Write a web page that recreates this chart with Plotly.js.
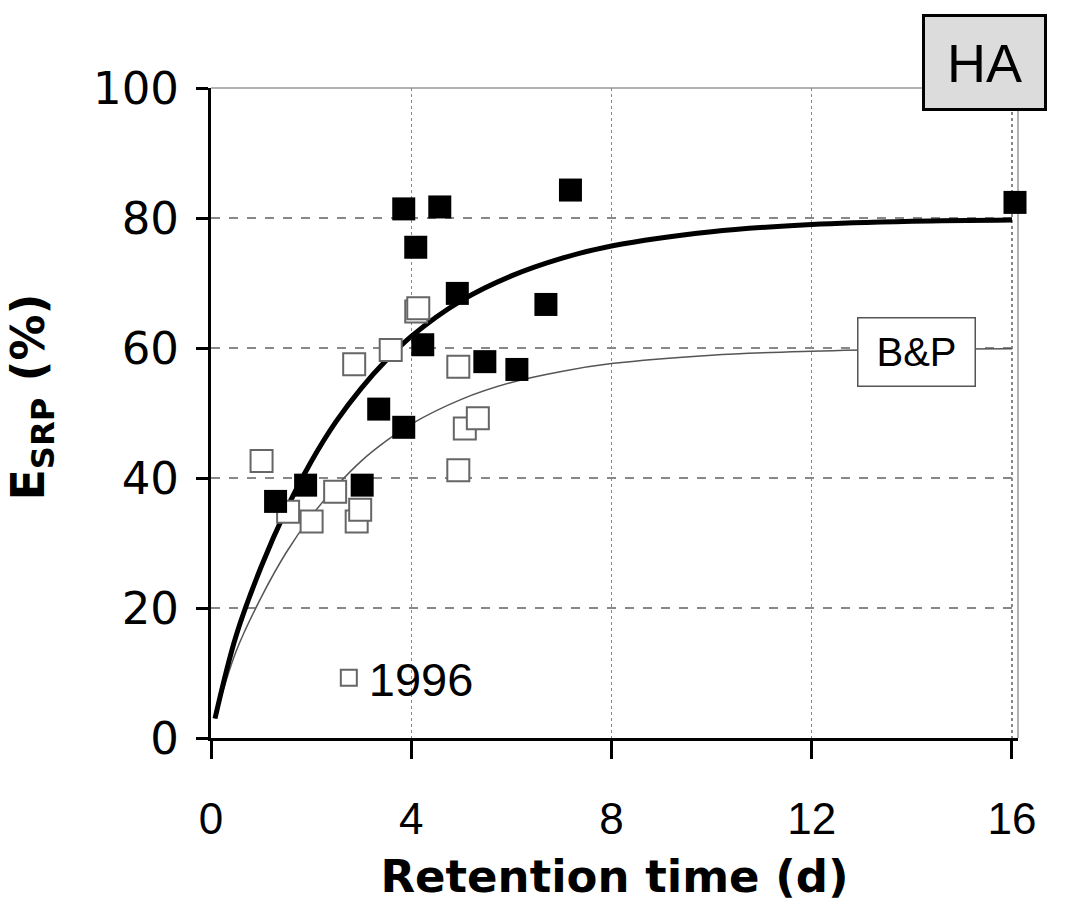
<!DOCTYPE html>
<html>
<head>
<meta charset="utf-8">
<script src="https://cdn.plot.ly/plotly-3.0.1.min.js"></script>
<style>
  html, body { margin: 0; padding: 0; background: #ffffff; }
  #chart { width: 1081px; height: 922px; }
</style>
</head>
<body>
<div id="chart"></div>
<script>
// Filled squares (measured data)
const filledX = [1.29, 1.89, 3.02, 3.35, 3.85, 3.85, 4.09, 4.57, 4.23, 4.92, 5.47, 6.11, 6.69, 7.18, 16.06];
const filledY = [36.4, 38.9, 38.9, 50.6, 47.8, 81.4, 75.5, 81.7, 60.5, 68.4, 57.9, 56.7, 66.7, 84.3, 82.4];

// Open squares (1996)
const openX = [1.01, 1.54, 2.01, 2.48, 2.91, 2.98, 2.86, 3.59, 4.10, 4.14, 4.94, 5.07, 5.33, 4.94];
const openY = [42.6, 34.8, 33.3, 37.9, 33.3, 35.1, 57.5, 59.7, 65.6, 66.1, 57.1, 47.6, 49.2, 41.2];

// Curves
const curveX     = [0.08, 0.5, 1, 1.5, 2, 2.5, 3, 3.5, 4, 5, 6, 7, 8, 10, 12, 14, 16];
const thickCurve = [3.0, 15.7, 26.3, 35.1, 42.5, 48.7, 53.8, 58.1, 61.8, 67.3, 71.1, 73.8, 75.7, 77.9, 79.0, 79.5, 79.7];
const thinCurve  = [3.0, 13.3, 21.6, 28.5, 34.1, 38.7, 42.6, 45.7, 48.3, 52.1, 54.7, 56.4, 57.6, 58.9, 59.5, 59.8, 59.9];

// Axis ticks and labels
const xTicks = [0, 4, 8, 12, 16];
const yTicks = [0, 20, 40, 60, 80, 100];
const xTitle = "<b>Retention time (d)</b>";
const yTitle = "<b>E<sub>SRP</sub> (%)</b>";
const panelLabel = "HA";
const curveLabel = "B&P";
const curveLabelPos = [14.09, 59.4];
const legendName = "1996";

const traces = [
  {
    x: curveX, y: thinCurve, mode: "lines", type: "scatter",
    line: {color: "#555555", width: 1.5, shape: "spline"},
    showlegend: false, hoverinfo: "skip"
  },
  {
    x: curveX, y: thickCurve, mode: "lines", type: "scatter",
    line: {color: "#000000", width: 5, shape: "spline"},
    showlegend: false, hoverinfo: "skip"
  },
  {
    x: openX, y: openY, mode: "markers", type: "scatter", name: legendName,
    marker: {symbol: "square", size: 22, color: "#ffffff", line: {color: "#666666", width: 2}},
    cliponaxis: false, showlegend: true
  },
  {
    x: filledX, y: filledY, mode: "markers", type: "scatter",
    marker: {symbol: "square", size: 23, color: "#000000", line: {color: "#000000", width: 0}},
    cliponaxis: false, showlegend: false
  }
];

const layout = {
  width: 1081, height: 922,
  margin: {l: 211, r: 63, t: 88, b: 184},
  paper_bgcolor: "#ffffff", plot_bgcolor: "#ffffff",
  font: {family: "Liberation Sans, Arial, sans-serif", color: "#000000"},
  xaxis: {
    range: [0, 16.12], tickvals: xTicks, ticktext: xTicks.map(String),
    showline: true, linecolor: "#000000", linewidth: 3,
    ticks: "outside", ticklen: 18, tickwidth: 3, tickcolor: "#000000",
    showgrid: true, gridcolor: "#888888", gridwidth: 1.5, griddash: "dot",
    zeroline: false, ticklabelstandoff: 22,
    tickfont: {family: "Liberation Sans, Arial, sans-serif", size: 44, color: "#000000"},
    title: {text: xTitle, font: {family: "DejaVu Sans, sans-serif", size: 45, color: "#000000"}, standoff: 19}
  },
  yaxis: {
    range: [0, 100], tickvals: yTicks, ticktext: yTicks.map(String),
    showline: true, linecolor: "#000000", linewidth: 3,
    ticks: "outside", ticklen: 12, tickwidth: 3, tickcolor: "#000000",
    showgrid: true, gridcolor: "#888888", gridwidth: 1.5, griddash: "dash",
    zeroline: false, ticklabelstandoff: 8,
    tickfont: {family: "DejaVu Sans, sans-serif", size: 45, color: "#000000"}
  },
  showlegend: true,
  legend: {
    x: 0.146, y: 0.092, xanchor: "left", yanchor: "middle",
    bgcolor: "rgba(0,0,0,0)", borderwidth: 0,
    font: {family: "Liberation Sans, Arial, sans-serif", size: 47, color: "#000000"}
  },
  shapes: [
    {type: "line", xref: "paper", yref: "paper", x0: 0, x1: 1, y0: 1, y1: 1, line: {color: "#999999", width: 1.5}, layer: "below"},
    {type: "line", xref: "paper", yref: "paper", x0: 1, x1: 1, y0: 0, y1: 1, line: {color: "#999999", width: 1.5}, layer: "below"}
  ],
  annotations: [
    {
      text: yTitle, xref: "paper", yref: "paper", x: -0.222, y: 0.525,
      xanchor: "center", yanchor: "middle", showarrow: false, textangle: -90,
      font: {family: "DejaVu Sans, sans-serif", size: 46, color: "#000000"}
    },
    {
      text: panelLabel, xref: "paper", yref: "paper", x: 0.959, y: 1.039,
      xanchor: "center", yanchor: "middle", showarrow: false,
      font: {family: "Liberation Sans, Arial, sans-serif", size: 54, color: "#000000"},
      bgcolor: "#dcdcdc", bordercolor: "#000000", borderwidth: 3, borderpad: 0,
      width: 119, height: 91
    },
    {
      text: curveLabel, xref: "x", yref: "y", x: curveLabelPos[0], y: curveLabelPos[1],
      xanchor: "center", yanchor: "middle", showarrow: false,
      font: {family: "Liberation Sans, Arial, sans-serif", size: 40, color: "#000000"},
      bgcolor: "#ffffff", bordercolor: "#555555", borderwidth: 1.5, borderpad: 0,
      width: 116, height: 67
    }
  ]
};

Plotly.newPlot("chart", traces, layout, {displayModeBar: false, staticPlot: true});
</script>
</body>
</html>
